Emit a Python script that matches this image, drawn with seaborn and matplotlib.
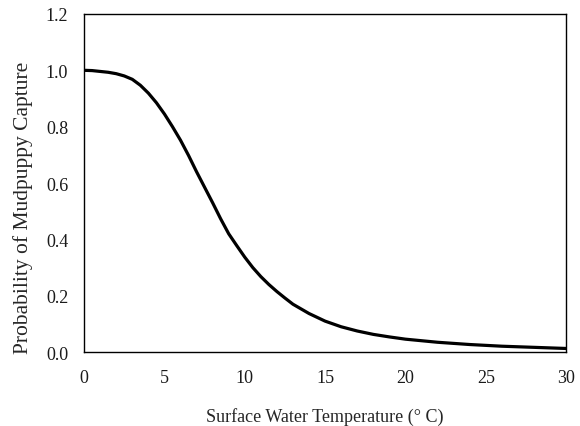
import pandas as pd
import matplotlib.pyplot as plt
import seaborn as sns

# -------------------------
# Data
# -------------------------
temperature = [0, 0.5, 1, 1.5, 2, 2.5, 3, 3.5, 4, 4.5, 5, 5.5, 6, 6.5,
               7, 7.5, 8, 8.5, 9, 9.5, 10, 10.5, 11, 11.5, 12, 12.5, 13,
               14, 15, 16, 17, 18, 19, 20, 22, 24, 26, 28, 30]
probability = [1.0, 0.999, 0.996, 0.993, 0.988, 0.98, 0.968, 0.947, 0.919,
               0.885, 0.845, 0.80, 0.752, 0.698, 0.640, 0.585, 0.530,
               0.473, 0.42, 0.378, 0.337, 0.300, 0.268, 0.240, 0.215,
               0.192, 0.17, 0.137, 0.11, 0.09, 0.075, 0.063, 0.054, 0.046,
               0.035, 0.027, 0.021, 0.017, 0.013]

x_ticks = [0, 5, 10, 15, 20, 25, 30]
y_ticks = [0.0, 0.2, 0.4, 0.6, 0.8, 1.0, 1.2]

df = pd.DataFrame({"temp": temperature, "prob": probability})

# -------------------------
# Plot
# -------------------------
sns.set_style("white")
plt.rcParams["font.family"] = ["Liberation Serif", "DejaVu Serif"]

fig = plt.figure(figsize=(5.8, 4.27), dpi=100)
ax = fig.add_axes([0.145, 0.173, 0.831, 0.792])

sns.lineplot(data=df, x="temp", y="prob", color="black", linewidth=2.3,
             solid_joinstyle="round", ax=ax)

ax.set_xlim(0, 30)
ax.set_ylim(0, 1.2)
ax.set_xticks(x_ticks)
ax.set_yticks(y_ticks)
ax.set_yticklabels([f"{v:.1f}" for v in y_ticks])

for side in ["top", "right", "bottom", "left"]:
    ax.spines[side].set_color("black")
    ax.spines[side].set_linewidth(1.0)

ax.tick_params(axis="both", direction="in", length=4.5, width=1,
               labelsize=13, colors="#1a1a1a", pad=11.5)
ax.tick_params(axis="x", pad=12)

ax.set_xlabel("Surface Water Temperature (° C)", fontsize=13, labelpad=15)
ax.set_ylabel("Probability of Mudpuppy Capture", fontsize=15.5)
# the reference label sits a bit below the middle of the axis
ax.yaxis.set_label_coords(-0.105, 0.43)

fig.savefig("out.png", dpi=100)
plt.close()
